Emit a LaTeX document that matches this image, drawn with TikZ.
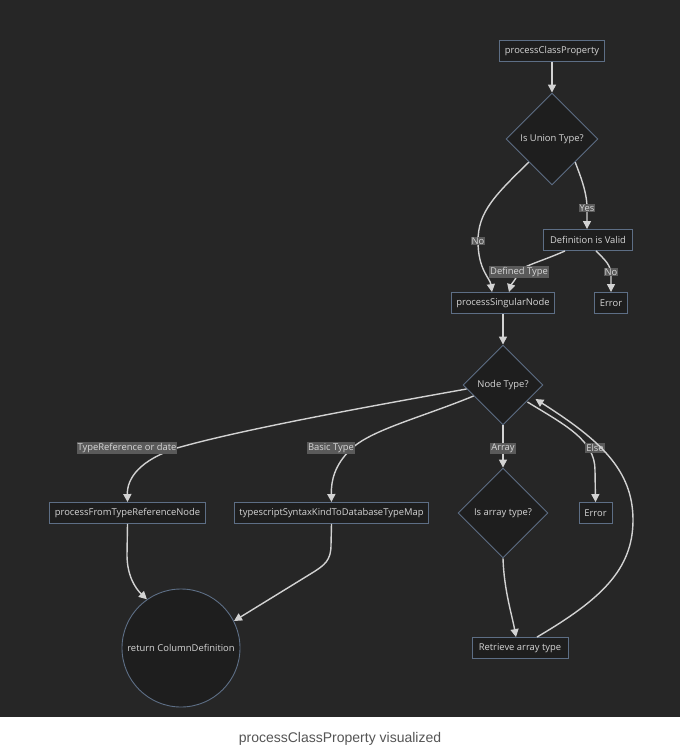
\documentclass[tikz,border=0pt]{standalone}
\usepackage{fontspec}
\setmainfont{Open Sans}
\newfontfamily\capfont{Liberation Sans}
\usetikzlibrary{shapes.geometric,arrows.meta,calc}
\definecolor{bgdark}{HTML}{262626}
\definecolor{nodefill}{HTML}{1E1E1E}
\definecolor{nodeline}{HTML}{5D6E85}
\definecolor{txt}{HTML}{D6D6D6}
\definecolor{edgecol}{HTML}{D2D2D2}
\definecolor{lblfill}{HTML}{5A5A5A}
\definecolor{capcol}{HTML}{555555}
\tikzset{
  box/.style={draw=nodeline, fill=nodefill, line width=0.9pt, text=txt,
    font=\fontsize{9.4}{11}\selectfont, minimum height=21pt, inner xsep=5pt, inner ysep=2pt},
  decision/.style={diamond, aspect=1, draw=nodeline, fill=nodefill, line width=0.9pt,
    text=txt, font=\fontsize{9.4}{11}\selectfont, inner sep=0pt},
  endcircle/.style={circle, draw=nodeline, fill=nodefill, line width=0.9pt, text=txt,
    font=\fontsize{9.4}{11}\selectfont, minimum size=118pt, inner sep=0pt},
  edge/.style={draw=edgecol, line width=1.4pt, -{Triangle[length=8pt,width=8pt]}},
  lbl/.style={fill=lblfill, text=txt, font=\fontsize{9.4}{11}\selectfont, inner xsep=1pt, inner ysep=1pt}
}
\begin{document}
\begin{tikzpicture}[x=1pt,y=-1pt]
  \useasboundingbox (0,0) rectangle (680,747);
  \fill[bgdark] (0,0) rectangle (680,717);
  \fill[white] (0,717) rectangle (680,747);

  % nodes
  \node[box, minimum width=103pt] (pcp) at (552,51) {processClassProperty};
  \node[decision, minimum size=92pt] (uni) at (552,139) {Is Union Type?};
  \node[box, minimum width=89pt] (dv) at (588,240) {Definition is Valid};
  \node[box, minimum width=101pt] (psn) at (503,303) {processSingularNode};
  \node[box, minimum width=32pt] (er1) at (611,303) {Error};
  \node[decision, minimum size=80pt] (nt) at (503,385) {Node Type?};
  \node[box, minimum width=153pt] (pft) at (127.5,513) {processFromTypeReferenceNode};
  \node[box, minimum width=193pt] (tsk) at (331.5,513) {typescriptSyntaxKindToDatabaseTypeMap};
  \node[decision, minimum size=90pt] (iat) at (503,513) {Is array type?};
  \node[box, minimum width=33pt] (er2) at (595.5,513) {Error};
  \node[box, minimum width=96pt] (rat) at (520,648) {Retrieve array type};
  \node[endcircle] (rc) at (181,648) {return ColumnDefinition};

  % connectors
  \draw[edge] (pcp) -- (uni);
  \draw[edge] (uni.south west) .. controls (495,195) and (478,212) .. (478,241)
     .. controls (478,270) and (490,278) .. ($(psn.north)+(-11,0)$);
  \node[lbl] (lno1) at (478,241) {No};
  \draw[edge] (uni.south east) .. controls (580,175) and (587,192) .. (587,208)
     -- ($(dv.north)+(-1,0)$);
  \node[lbl] (lyes) at (587,208) {Yes};
  \draw[edge] ($(dv.south)+(-23,0)$) .. controls (540,262) and (522,266) .. (519,272)
     .. controls (516,279) and (511,285) .. ($(psn.north)+(6,0)$);
  \node[lbl] (ldef) at (519,272) {Defined Type};
  \draw[edge] ($(dv.south)+(8,0)$) .. controls (605,260) and (611,265) .. (611,275)
     -- (er1.north);
  \node[lbl] (lno2) at (611,272) {No};

  \draw[edge] (psn) -- (nt);

  \draw[edge] ($(nt.west)+(4,4)$) .. controls (360,408) and (240,430) .. (177,448)
     .. controls (140,460) and (127,478) .. (pft.north);
  \node[lbl] (ltr) at (127,448) {TypeReference or date};
  \draw[edge] ($(nt.west)+(11,11)$) .. controls (420,418) and (370,430) .. (350,450)
     .. controls (335,465) and (331,480) .. (tsk.north);
  \node[lbl] (lbt) at (331,448) {Basic Type};
  \draw[edge] (nt.south) -- (iat.north);
  \node[lbl] (larr) at (503,448) {Array};
  \draw[edge] ($(nt.east)+(-16,17)$) .. controls (565,425) and (595,440) .. (595,470)
     -- (er2.north);
  \node[lbl] (lels) at (595,448) {Else};

  \draw[edge] (iat.south) .. controls (504,590) and (512,615) .. ($(rat.north)+(-4,0)$);
  \draw[edge] ($(rat.north)+(17,0)$) .. controls (600,600) and (633,570) .. (633,520)
     .. controls (633,470) and (600,440) .. ($(nt.east)+(-8,14)$);

  \draw[edge] (pft.south) -- (127,555) .. controls (127,575) and (135,588) .. (rc.125);
  \draw[edge] (tsk.south) -- (331,545) .. controls (331,560) and (325,565) .. (312,573)
     -- (rc.27);

  % caption
  \node[text=capcol, font=\capfont\fontsize{14}{16}\selectfont] (cap) at (340,739)
     {processClassProperty visualized};
\end{tikzpicture}
\end{document}
